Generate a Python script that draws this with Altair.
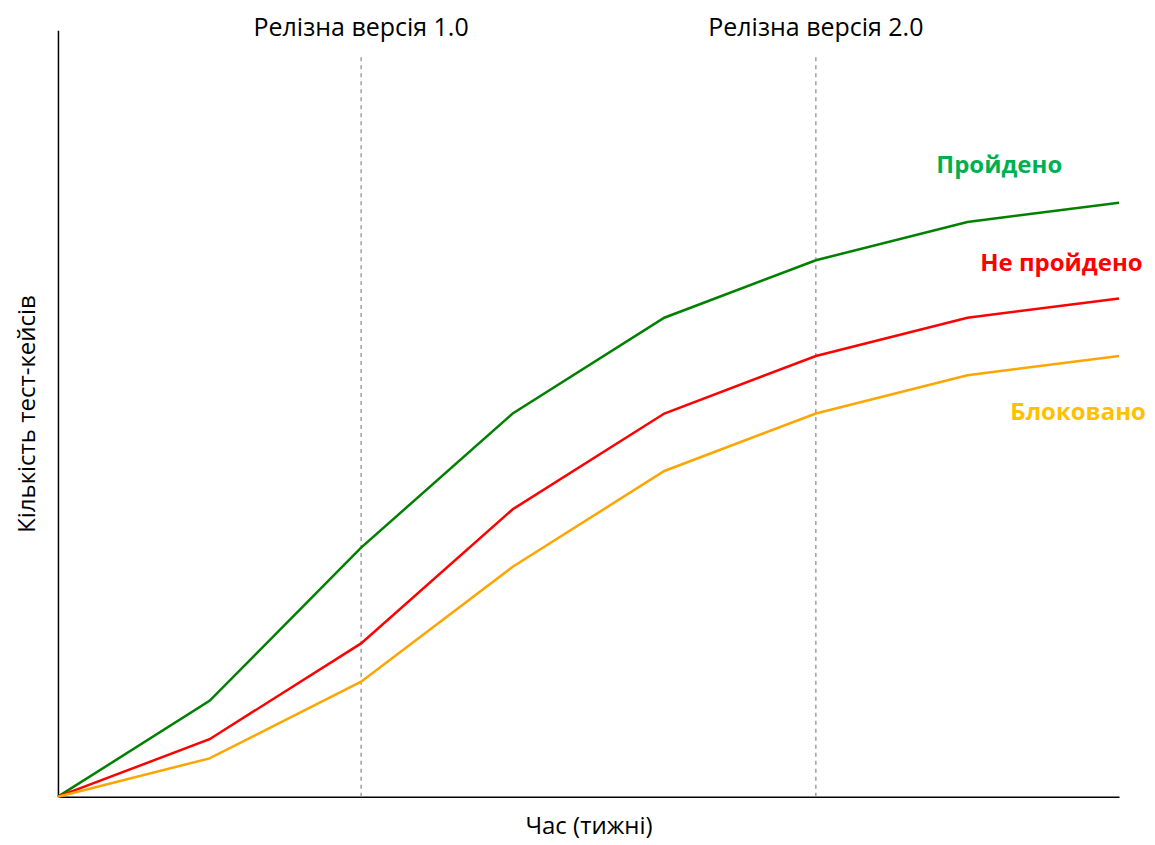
import altair as alt
import pandas as pd

weeks = [0, 1, 2, 3, 4, 5, 6, 7]
passed = [0, 5, 13, 20, 25, 28, 30, 31]
failed = [0, 3, 8, 15, 20, 23, 25, 26]
blocked = [0, 2, 6, 12, 17, 20, 22, 23]

series_names = ["Пройдено", "Не пройдено", "Блоковано"]
line_colors = ["#008000", "#FF0000", "#FFA500"]
label_colors = ["#00B050", "#FF0000", "#FFC000"]
label_x = [6.21, 6.62, 6.73]
label_y = [32.9, 27.8, 20.05]

release_weeks = [2, 5]
release_names = ["Релізна версія 1.0", "Релізна версія 2.0"]

FONT = "Open Sans"
FS = 24

rows = []
for name, vals in zip(series_names, [passed, failed, blocked]):
    for w, v in zip(weeks, vals):
        rows.append({"week": w, "count": v, "series": name})
df = pd.DataFrame(rows)

xscale = alt.Scale(domain=[0, 7], nice=False, zero=False)
yscale = alt.Scale(domain=[0, 40], nice=False)

lines = alt.Chart(df).mark_line(strokeWidth=2.5).encode(
    x=alt.X("week:Q", scale=xscale,
            axis=alt.Axis(title="Час (тижні)", labels=False, ticks=False, grid=False,
                          domainColor="black", domainWidth=1.5, titleFont=FONT,
                          titleFontSize=FS, titleFontWeight="normal", titlePadding=18,
                          titleColor="black")),
    y=alt.Y("count:Q", scale=yscale,
            axis=alt.Axis(title="Кількість тест-кейсів", labels=False, ticks=False, grid=False,
                          domainColor="black", domainWidth=1.5, titleFont=FONT,
                          titleFontSize=FS, titleFontWeight="normal", titlePadding=18,
                          titleColor="black")),
    color=alt.Color("series:N", scale=alt.Scale(domain=series_names, range=line_colors), legend=None),
)

rel_df = pd.DataFrame({"week": release_weeks, "name": release_names,
                       "y0": [0, 0], "y1": [38.7, 38.7]})
rules = alt.Chart(rel_df).mark_rule(color="#888888", strokeDash=[4, 4], strokeWidth=1.2).encode(
    x="week:Q", y="y0:Q", y2="y1:Q"
)
rel_text = alt.Chart(rel_df).mark_text(font=FONT, fontSize=25, color="black", baseline="middle").encode(
    x="week:Q", y=alt.value(-2), text="name:N"
)

lab_df = pd.DataFrame({"x": label_x, "y": label_y, "name": series_names})
labels = alt.Chart(lab_df).mark_text(font=FONT, fontSize=FS, fontWeight="bold", baseline="middle").encode(
    x="x:Q", y="y:Q", text="name:N",
    color=alt.Color("name:N", scale=alt.Scale(domain=series_names, range=label_colors), legend=None),
)

chart = alt.layer(rules, lines, rel_text, labels).resolve_scale(color="independent").properties(
    width=1062, height=767,
    padding={"left": 50, "top": 22, "right": 28, "bottom": 48},
    autosize=alt.AutoSizeParams(type="none"),
).configure(background="white", view=alt.ViewConfig(stroke=None))

chart.save("out.html", embed_options={"renderer": "svg", "actions": False})
